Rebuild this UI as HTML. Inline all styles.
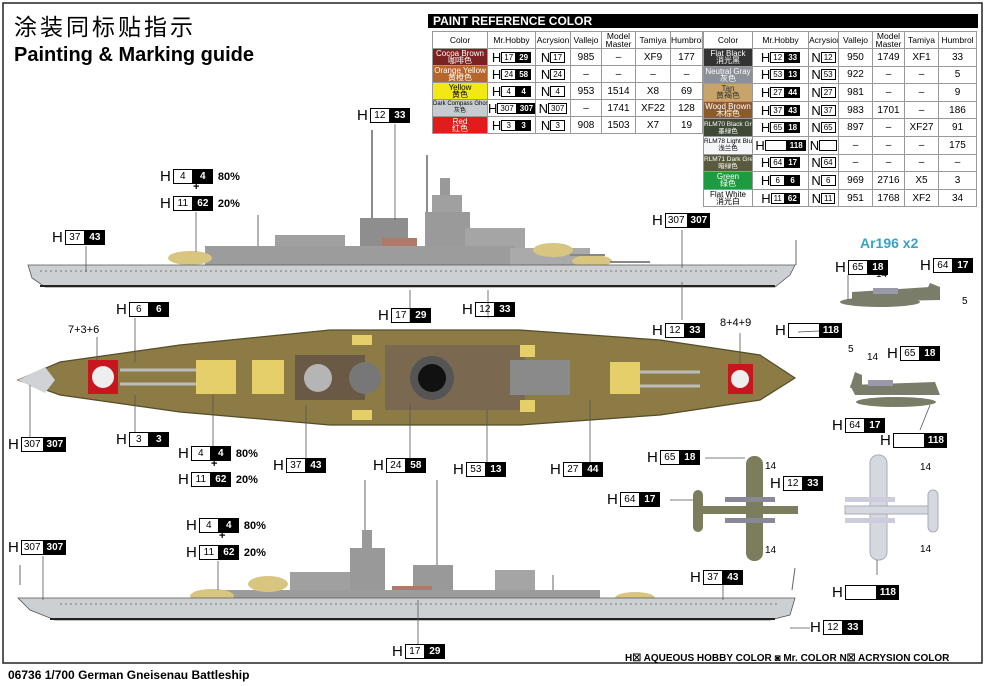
<!DOCTYPE html>
<html><head><meta charset="utf-8">
<style>
body{margin:0;background:#fff;width:986px;height:686px;overflow:hidden;position:relative;font-family:"Liberation Sans","Noto Sans CJK SC",sans-serif}
.t{position:absolute;border-collapse:collapse;font-size:10px;text-align:center;table-layout:fixed}
.t td{border:1px solid #999;padding:0;line-height:9px;white-space:nowrap;overflow:hidden}
.t th{border:1px solid #999;height:16px;font-weight:normal;font-size:8.5px;line-height:8px;padding:0;overflow:hidden}
.t .h{font-size:13px;line-height:11px;vertical-align:middle}
.t .b{font-size:8px;line-height:9px;height:9px}
.c{font-size:8px;line-height:7px !important;color:#fff}
.b{display:inline-block;font-size:8px;line-height:10px;height:10px;vertical-align:middle;border:1px solid #000;padding:0 2px}
.k{background:#000;color:#fff;font-weight:bold}
.h{font-size:13px;vertical-align:middle}
.l{position:absolute;white-space:nowrap;font-size:0}.l .h{font-size:15px;margin-right:2px}.l .b{font-size:10px;height:13px;line-height:13px;min-width:14px;text-align:center}.l .p{font-size:11px;font-weight:bold;margin-left:5px;vertical-align:middle}
.r tr{height:17.6px}
</style></head><body>
<svg width="986" height="686" style="position:absolute;left:0;top:0" font-family="Liberation Sans, sans-serif">
<rect x="3" y="3" width="979" height="660" fill="none" stroke="#222" stroke-width="1.5"/>
<text x="14" y="35" font-size="23" font-family="Noto Sans CJK SC, sans-serif" letter-spacing="3">涂装同标贴指示</text>
<text x="14" y="61" font-size="20" font-weight="bold">Painting &amp; Marking guide</text>
<rect x="428" y="14" width="550" height="14" fill="#000"/>
<text x="433" y="25" font-size="12" font-weight="bold" fill="#fff">PAINT  REFERENCE COLOR</text>

<g>
<line x1="372" y1="130" x2="372" y2="230" stroke="#666" stroke-width="1.5"/>
<line x1="427" y1="155" x2="427" y2="230" stroke="#666" stroke-width="1.5"/>
<line x1="258" y1="215" x2="258" y2="250" stroke="#666"/>
<line x1="796" y1="240" x2="796" y2="265" stroke="#666"/>
<rect x="440" y="178" width="10" height="20" fill="#999"/>
<rect x="432" y="195" width="30" height="20" fill="#a0a0a0"/>
<rect x="425" y="212" width="45" height="45" fill="#9a9a9a"/>
<rect x="360" y="218" width="48" height="40" fill="#8e8e8e"/>
<rect x="382" y="238" width="35" height="9" fill="#b07a6a"/>
<rect x="275" y="235" width="70" height="25" fill="#a0a0a0"/>
<rect x="465" y="228" width="60" height="32" fill="#a5a5a5"/>
<rect x="205" y="246" width="310" height="20" fill="#9c9c9c"/>
<rect x="510" y="248" width="80" height="18" fill="#aaa"/>
<ellipse cx="190" cy="258" rx="22" ry="7" fill="#d8c680"/>
<rect x="535" y="252" width="40" height="14" fill="#aaa"/>
<ellipse cx="553" cy="250" rx="20" ry="7" fill="#d8c680"/>
<ellipse cx="592" cy="261" rx="20" ry="6" fill="#d8c680"/>
<line x1="570" y1="255" x2="605" y2="255" stroke="#888" stroke-width="2"/>
<line x1="610" y1="262" x2="650" y2="262" stroke="#888" stroke-width="2"/>
<polygon points="28,265 795,265 790,275 775,287 45,287 32,278" fill="#cdd0d3" stroke="#555" stroke-width="0.8"/>
<line x1="40" y1="286" x2="775" y2="286" stroke="#222" stroke-width="2"/>
<line x1="40" y1="271" x2="780" y2="271" stroke="#777" stroke-dasharray="2 3"/>
</g>

<polygon points="18,380 60,362 180,345 330,330 520,330 660,340 760,355 795,378 760,400 660,415 520,425 330,425 180,412 60,395" fill="#8c7b44" stroke="#554c28" stroke-width="1.2"/>
<polygon points="18,380 45,367 55,380 45,393" fill="#d0d2d5"/>
<rect x="88" y="360" width="30" height="34" fill="#c8161e"/>
<circle cx="103" cy="377" r="11" fill="#eee"/>
<rect x="728" y="364" width="25" height="30" fill="#c8161e"/>
<circle cx="740" cy="379" r="9" fill="#eee"/>
<rect x="196" y="360" width="40" height="34" fill="#e5cf6a"/>
<rect x="252" y="360" width="32" height="34" fill="#e5cf6a"/>
<rect x="610" y="362" width="30" height="32" fill="#e5cf6a"/>
<line x1="120" y1="370" x2="196" y2="370" stroke="#bbb" stroke-width="3"/>
<line x1="120" y1="384" x2="196" y2="384" stroke="#bbb" stroke-width="3"/>
<line x1="640" y1="372" x2="700" y2="372" stroke="#bbb" stroke-width="3"/>
<line x1="640" y1="386" x2="700" y2="386" stroke="#bbb" stroke-width="3"/>
<rect x="295" y="355" width="70" height="45" fill="#6a5a45"/>
<circle cx="318" cy="378" r="14" fill="#b5b5b5"/>
<circle cx="365" cy="378" r="16" fill="#777"/>
<rect x="385" y="345" width="140" height="65" fill="#7a6850"/>
<circle cx="432" cy="378" r="22" fill="#555"/>
<circle cx="432" cy="378" r="14" fill="#111"/>
<rect x="510" y="360" width="60" height="35" fill="#8a8a8a"/>
<rect x="352" y="335" width="20" height="10" fill="#e5cf6a"/>
<rect x="352" y="410" width="20" height="10" fill="#e5cf6a"/>
<rect x="520" y="345" width="15" height="12" fill="#e5cf6a"/>
<rect x="520" y="400" width="15" height="12" fill="#e5cf6a"/>

<line x1="365" y1="480" x2="365" y2="545" stroke="#666"/>
<line x1="437" y1="480" x2="437" y2="600" stroke="#666"/>
<line x1="553" y1="575" x2="553" y2="590" stroke="#666"/>
<line x1="20" y1="565" x2="20" y2="585" stroke="#666"/>
<line x1="795" y1="568" x2="792" y2="590" stroke="#666"/>
<rect x="362" y="530" width="10" height="20" fill="#999"/>
<rect x="350" y="548" width="35" height="50" fill="#999"/>
<rect x="413" y="565" width="40" height="35" fill="#999"/>
<rect x="392" y="586" width="40" height="10" fill="#b07a6a"/>
<rect x="495" y="570" width="40" height="30" fill="#a5a5a5"/>
<rect x="290" y="572" width="60" height="28" fill="#a0a0a0"/>
<rect x="200" y="590" width="400" height="14" fill="#9c9c9c"/>
<ellipse cx="212" cy="596" rx="22" ry="7" fill="#d8c680"/>
<ellipse cx="268" cy="584" rx="20" ry="8" fill="#d8c680"/>
<ellipse cx="635" cy="598" rx="20" ry="6" fill="#d8c680"/>
<polygon points="18,598 795,598 790,615 770,620 55,620 30,610" fill="#cdd0d3" stroke="#555" stroke-width="0.8"/>
<line x1="50" y1="619" x2="775" y2="619" stroke="#222" stroke-width="2"/>
<line x1="60" y1="604" x2="780" y2="604" stroke="#777" stroke-dasharray="2 3"/>

<g fill="#7a7d6a">
<ellipse cx="880" cy="302" rx="40" ry="5"/>
<polygon points="852,292 930,287 940,300 852,302"/>
<polygon points="922,300 930,283 940,287 940,300"/>
<rect x="873" y="288" width="25" height="6" fill="#99a"/>
<ellipse cx="896" cy="402" rx="40" ry="5" fill="#7a7d66"/>
<polygon points="850,385 935,382 940,395 855,395"/>
<polygon points="850,388 855,372 862,375 862,388"/>
<rect x="868" y="380" width="25" height="6" fill="#99a"/>
</g>
<rect x="746" y="456" width="17" height="105" rx="8" fill="#7b7d5c"/>
<rect x="698" y="506" width="100" height="8" fill="#7b7d5c"/>
<rect x="693" y="490" width="10" height="42" rx="5" fill="#7b7d5c"/>
<rect x="725" y="497" width="50" height="5" fill="#889"/><rect x="725" y="518" width="50" height="5" fill="#889"/>
<rect x="870" y="455" width="17" height="105" rx="8" fill="#d5d9df" stroke="#aab"/>
<rect x="845" y="506" width="90" height="8" fill="#d5d9df" stroke="#aab"/>
<rect x="928" y="490" width="10" height="42" rx="5" fill="#d5d9df" stroke="#aab"/>
<rect x="845" y="497" width="50" height="5" fill="#ccd"/><rect x="845" y="518" width="50" height="5" fill="#ccd"/>
<text x="860" y="248" font-size="14" font-weight="bold" fill="#3aa0cc">Ar196 x2</text>
<g font-size="10" fill="#000">
<text x="876" y="277">14</text><text x="962" y="304">5</text>
<text x="848" y="352">5</text><text x="867" y="360">14</text>
<text x="765" y="469">14</text><text x="765" y="553">14</text>
<text x="920" y="470">14</text><text x="920" y="552">14</text>
<text x="68" y="333" font-size="11">7+3+6</text><text x="720" y="326" font-size="11">8+4+9</text>
</g>
<g stroke="#555" stroke-width="0.8">
<line x1="395" y1="124" x2="395" y2="220"/><line x1="86" y1="246" x2="86" y2="272"/>
<line x1="196" y1="212" x2="196" y2="252"/><line x1="682" y1="230" x2="682" y2="268"/>
<line x1="135" y1="318" x2="135" y2="362"/><line x1="97" y1="337" x2="97" y2="360"/>
<line x1="740" y1="333" x2="740" y2="364"/><line x1="410" y1="323" x2="410" y2="290"/>
<line x1="488" y1="318" x2="488" y2="290"/><line x1="682" y1="320" x2="682" y2="282"/>
<line x1="30" y1="437" x2="30" y2="385"/><line x1="135" y1="432" x2="135" y2="395"/>
<line x1="213" y1="446" x2="213" y2="395"/><line x1="306" y1="458" x2="306" y2="405"/>
<line x1="410" y1="458" x2="410" y2="405"/><line x1="487" y1="462" x2="487" y2="410"/>
<line x1="590" y1="462" x2="590" y2="400"/><line x1="43" y1="556" x2="43" y2="600"/>
<line x1="218" y1="561" x2="218" y2="590"/><line x1="418" y1="644" x2="418" y2="600"/>
<line x1="723" y1="585" x2="723" y2="600"/><line x1="810" y1="628" x2="790" y2="628"/>
<line x1="705" y1="458" x2="745" y2="458"/><line x1="670" y1="500" x2="693" y2="500"/>
<line x1="798" y1="332" x2="840" y2="330"/>
<line x1="877" y1="575" x2="877" y2="560"/><line x1="920" y1="430" x2="930" y2="405"/>
<line x1="848" y1="275" x2="848" y2="300"/>
</g>
<text x="8" y="679" font-size="12" font-weight="bold">06736 1/700  German Gneisenau Battleship</text>
<text x="625" y="661" font-size="10" font-weight="bold">H☒ AQUEOUS HOBBY COLOR   ◙ Mr. COLOR   N☒ ACRYSION COLOR</text>
</svg>

<div class="l" style="left:357px;top:107px"><span class="h">H</span><span class="b">12</span><span class="b k">33</span></div>
<div class="l" style="left:160px;top:168px"><span class="h">H</span><span class="b">&nbsp;4&nbsp;</span><span class="b k">&nbsp;4&nbsp;</span><span class="p">80%</span></div>
<div class="l" style="left:193px;top:181px;font-size:11px;font-weight:bold">+</div>
<div class="l" style="left:160px;top:195px"><span class="h">H</span><span class="b">11</span><span class="b k">62</span><span class="p">20%</span></div>
<div class="l" style="left:52px;top:229px"><span class="h">H</span><span class="b">37</span><span class="b k">43</span></div>
<div class="l" style="left:652px;top:212px"><span class="h">H</span><span class="b">307</span><span class="b k">307</span></div>
<div class="l" style="left:116px;top:301px"><span class="h">H</span><span class="b">&nbsp;6&nbsp;</span><span class="b k">&nbsp;6&nbsp;</span></div>
<div class="l" style="left:378px;top:307px"><span class="h">H</span><span class="b">17</span><span class="b k">29</span></div>
<div class="l" style="left:462px;top:301px"><span class="h">H</span><span class="b">12</span><span class="b k">33</span></div>
<div class="l" style="left:652px;top:322px"><span class="h">H</span><span class="b">12</span><span class="b k">33</span></div>
<div class="l" style="left:8px;top:436px"><span class="h">H</span><span class="b">307</span><span class="b k">307</span></div>
<div class="l" style="left:116px;top:431px"><span class="h">H</span><span class="b">&nbsp;3&nbsp;</span><span class="b k">&nbsp;3&nbsp;</span></div>
<div class="l" style="left:178px;top:445px"><span class="h">H</span><span class="b">&nbsp;4&nbsp;</span><span class="b k">&nbsp;4&nbsp;</span><span class="p">80%</span></div>
<div class="l" style="left:211px;top:458px;font-size:11px;font-weight:bold">+</div>
<div class="l" style="left:178px;top:471px"><span class="h">H</span><span class="b">11</span><span class="b k">62</span><span class="p">20%</span></div>
<div class="l" style="left:273px;top:457px"><span class="h">H</span><span class="b">37</span><span class="b k">43</span></div>
<div class="l" style="left:373px;top:457px"><span class="h">H</span><span class="b">24</span><span class="b k">58</span></div>
<div class="l" style="left:453px;top:461px"><span class="h">H</span><span class="b">53</span><span class="b k">13</span></div>
<div class="l" style="left:550px;top:461px"><span class="h">H</span><span class="b">27</span><span class="b k">44</span></div>
<div class="l" style="left:835px;top:259px"><span class="h">H</span><span class="b">65</span><span class="b k">18</span></div>
<div class="l" style="left:920px;top:257px"><span class="h">H</span><span class="b">64</span><span class="b k">17</span></div>
<div class="l" style="left:775px;top:322px"><span class="h">H</span><span class="b" style="width:26px">&nbsp;</span><span class="b k">118</span></div>
<div class="l" style="left:887px;top:345px"><span class="h">H</span><span class="b">65</span><span class="b k">18</span></div>
<div class="l" style="left:832px;top:417px"><span class="h">H</span><span class="b">64</span><span class="b k">17</span></div>
<div class="l" style="left:880px;top:432px"><span class="h">H</span><span class="b" style="width:26px">&nbsp;</span><span class="b k">118</span></div>
<div class="l" style="left:647px;top:449px"><span class="h">H</span><span class="b">65</span><span class="b k">18</span></div>
<div class="l" style="left:770px;top:475px"><span class="h">H</span><span class="b">12</span><span class="b k">33</span></div>
<div class="l" style="left:607px;top:491px"><span class="h">H</span><span class="b">64</span><span class="b k">17</span></div>
<div class="l" style="left:186px;top:517px"><span class="h">H</span><span class="b">&nbsp;4&nbsp;</span><span class="b k">&nbsp;4&nbsp;</span><span class="p">80%</span></div>
<div class="l" style="left:219px;top:530px;font-size:11px;font-weight:bold">+</div>
<div class="l" style="left:186px;top:544px"><span class="h">H</span><span class="b">11</span><span class="b k">62</span><span class="p">20%</span></div>
<div class="l" style="left:8px;top:539px"><span class="h">H</span><span class="b">307</span><span class="b k">307</span></div>
<div class="l" style="left:690px;top:569px"><span class="h">H</span><span class="b">37</span><span class="b k">43</span></div>
<div class="l" style="left:832px;top:584px"><span class="h">H</span><span class="b" style="width:26px">&nbsp;</span><span class="b k">118</span></div>
<div class="l" style="left:810px;top:619px"><span class="h">H</span><span class="b">12</span><span class="b k">33</span></div>
<div class="l" style="left:392px;top:643px"><span class="h">H</span><span class="b">17</span><span class="b k">29</span></div>

<table class="t" style="left:432px;top:31px;width:270px">
<colgroup><col style="width:55px"><col style="width:48px"><col style="width:35px"><col style="width:31px"><col style="width:34px"><col style="width:35px"><col style="width:32px"></colgroup>
<tr><th>Color</th><th>Mr.Hobby</th><th>Acrysion</th><th>Vallejo</th><th>Model<br>Master</th><th>Tamiya</th><th>Humbrol</th></tr>
<tr style="height:17px"><td class="c" style="background:#7a2320">Cocoa Brown<br>咖啡色</td><td><span class="h">H</span><span class="b">17</span><span class="b k">29</span></td><td><span class="h">N</span><span class="b">17</span></td><td>985</td><td>–</td><td>XF9</td><td>177</td></tr>
<tr style="height:17px"><td class="c" style="background:#b8652a">Orange Yellow<br>黄橙色</td><td><span class="h">H</span><span class="b">24</span><span class="b k">58</span></td><td><span class="h">N</span><span class="b">24</span></td><td>–</td><td>–</td><td>–</td><td>–</td></tr>
<tr style="height:17px"><td class="c" style="background:#f2e816;color:#000">Yellow<br>黄色</td><td><span class="h">H</span><span class="b">&nbsp;4&nbsp;</span><span class="b k">&nbsp;4&nbsp;</span></td><td><span class="h">N</span><span class="b">&nbsp;4&nbsp;</span></td><td>953</td><td>1514</td><td>X8</td><td>69</td></tr>
<tr style="height:17px"><td class="c" style="background:#c8ccd0;color:#000;font-size:6px">Dark Compass Ghost Grey<br>灰色</td><td><span class="h">H</span><span class="b">307</span><span class="b k">307</span></td><td><span class="h">N</span><span class="b">307</span></td><td>–</td><td>1741</td><td>XF22</td><td>128</td></tr>
<tr style="height:17px"><td class="c" style="background:#e01c1c">Red<br>红色</td><td><span class="h">H</span><span class="b">&nbsp;3&nbsp;</span><span class="b k">&nbsp;3&nbsp;</span></td><td><span class="h">N</span><span class="b">&nbsp;3&nbsp;</span></td><td>908</td><td>1503</td><td>X7</td><td>19</td></tr>
</table>
<table class="t r" style="left:703px;top:31px;width:273px">
<colgroup><col style="width:49px"><col style="width:56px"><col style="width:30px"><col style="width:34px"><col style="width:32px"><col style="width:34px"><col style="width:38px"></colgroup>
<tr style="height:17px"><th>Color</th><th>Mr.Hobby</th><th>Acrysion</th><th>Vallejo</th><th>Model<br>Master</th><th>Tamiya</th><th>Humbrol</th></tr>
<tr><td class="c" style="background:#333">Flat Black<br>消光黑</td><td><span class="h">H</span><span class="b">12</span><span class="b k">33</span></td><td><span class="h">N</span><span class="b">12</span></td><td>950</td><td>1749</td><td>XF1</td><td>33</td></tr>
<tr><td class="c" style="background:#8c9098">Neutral Gray<br>灰色</td><td><span class="h">H</span><span class="b">53</span><span class="b k">13</span></td><td><span class="h">N</span><span class="b">53</span></td><td>922</td><td>–</td><td>–</td><td>5</td></tr>
<tr><td class="c" style="background:#c9a46a;color:#333">Tan<br>黄褐色</td><td><span class="h">H</span><span class="b">27</span><span class="b k">44</span></td><td><span class="h">N</span><span class="b">27</span></td><td>981</td><td>–</td><td>–</td><td>9</td></tr>
<tr><td class="c" style="background:#8a5a30">Wood Brown<br>木棕色</td><td><span class="h">H</span><span class="b">37</span><span class="b k">43</span></td><td><span class="h">N</span><span class="b">37</span></td><td>983</td><td>1701</td><td>–</td><td>186</td></tr>
<tr><td class="c" style="background:#3e4a36;font-size:6.5px">RLM70 Black Green<br>墨绿色</td><td><span class="h">H</span><span class="b">65</span><span class="b k">18</span></td><td><span class="h">N</span><span class="b">65</span></td><td>897</td><td>–</td><td>XF27</td><td>91</td></tr>
<tr><td class="c" style="background:#f4f6f8;color:#000;font-size:6.5px">RLM78 Light Blue<br>浅兰色</td><td><span class="h">H</span><span class="b" style="width:16px">&nbsp;</span><span class="b k">118</span></td><td><span class="h">N</span><span class="b" style="width:12px">&nbsp;</span></td><td>–</td><td>–</td><td>–</td><td>175</td></tr>
<tr><td class="c" style="background:#5a5a3e;font-size:6.5px">RLM71 Dark Green<br>暗绿色</td><td><span class="h">H</span><span class="b">64</span><span class="b k">17</span></td><td><span class="h">N</span><span class="b">64</span></td><td>–</td><td>–</td><td>–</td><td>–</td></tr>
<tr><td class="c" style="background:#1e9a40">Green<br>绿色</td><td><span class="h">H</span><span class="b">&nbsp;6&nbsp;</span><span class="b k">&nbsp;6&nbsp;</span></td><td><span class="h">N</span><span class="b">&nbsp;6&nbsp;</span></td><td>969</td><td>2716</td><td>X5</td><td>3</td></tr>
<tr><td class="c" style="background:#fff;color:#000">Flat White<br>消光白</td><td><span class="h">H</span><span class="b">11</span><span class="b k">62</span></td><td><span class="h">N</span><span class="b">11</span></td><td>951</td><td>1768</td><td>XF2</td><td>34</td></tr>
</table>
</body></html>
